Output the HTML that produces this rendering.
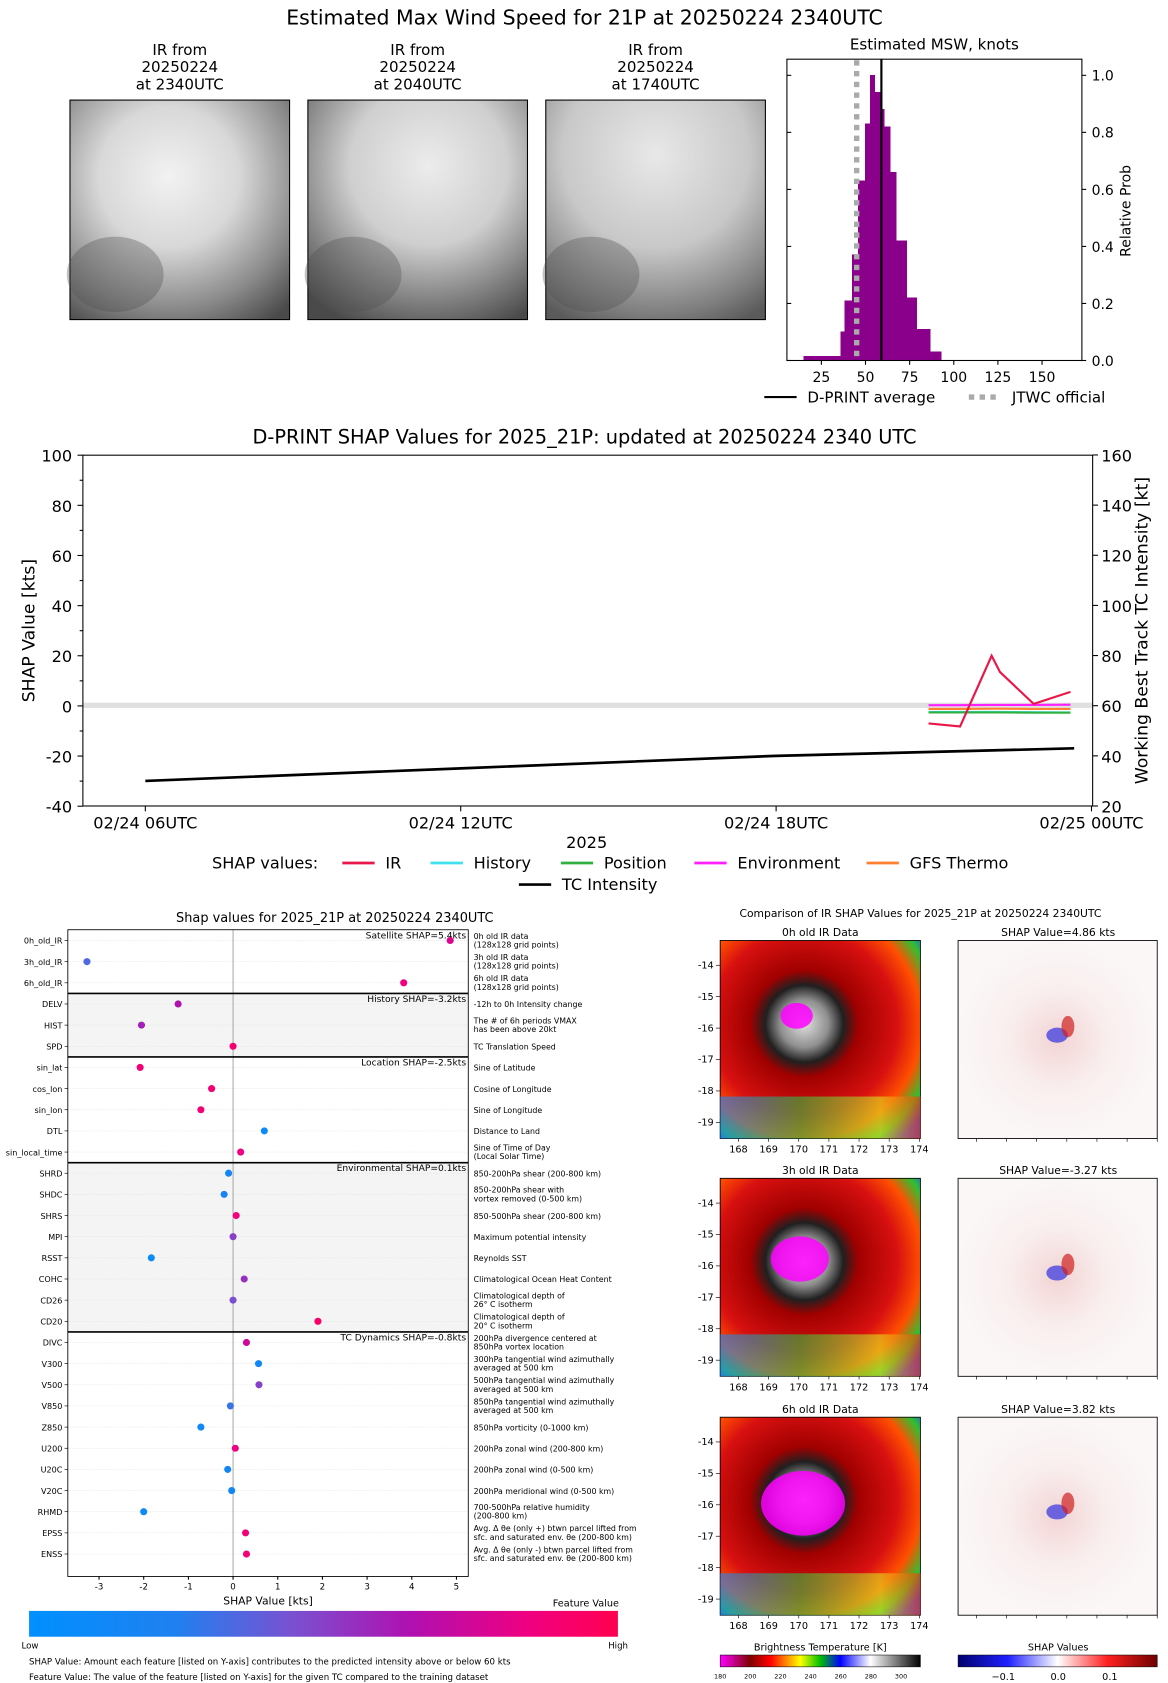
<!DOCTYPE html>
<html><head><meta charset="utf-8"><style>
html,body{margin:0;padding:0;background:#fff;}
svg{display:block;}
text{font-family:"DejaVu Sans","Liberation Sans",sans-serif;fill:#000;}
</style></head><body>
<svg id="root" width="1168" height="1683" viewBox="0 0 1085 1564" preserveAspectRatio="none" xmlns="http://www.w3.org/2000/svg">
<defs>
<radialGradient id="g1" cx="0.45" cy="0.35" r="0.8"><stop offset="0" stop-color="#f2f2f2"/><stop offset="0.4" stop-color="#d8d8d8"/><stop offset="0.75" stop-color="#8a8a8a"/><stop offset="1" stop-color="#4a4a4a"/></radialGradient>
<radialGradient id="g2" cx="0.55" cy="0.3" r="0.8"><stop offset="0" stop-color="#ececec"/><stop offset="0.45" stop-color="#cfcfcf"/><stop offset="0.8" stop-color="#7a7a7a"/><stop offset="1" stop-color="#4a4a4a"/></radialGradient>
<radialGradient id="g3" cx="0.5" cy="0.25" r="0.85"><stop offset="0" stop-color="#e8e8e8"/><stop offset="0.5" stop-color="#c8c8c8"/><stop offset="0.85" stop-color="#7e7e7e"/><stop offset="1" stop-color="#5a5a5a"/></radialGradient>
<radialGradient id="irc" cx="0.42" cy="0.42" r="0.75"><stop offset="0" stop-color="#e0e0e0"/><stop offset="0.16" stop-color="#909090"/><stop offset="0.26" stop-color="#202020"/><stop offset="0.36" stop-color="#a00000"/><stop offset="0.62" stop-color="#d81010"/><stop offset="0.78" stop-color="#ff5000"/><stop offset="0.9" stop-color="#30c030"/><stop offset="1" stop-color="#2050ff"/></radialGradient>
<linearGradient id="bandg" x1="0" x2="1"><stop offset="0" stop-color="#2080ff"/><stop offset="0.4" stop-color="#30c040"/><stop offset="0.8" stop-color="#e0e020"/><stop offset="1" stop-color="#ff3000"/></linearGradient>
<radialGradient id="shp" cx="0.5" cy="0.5" r="0.5"><stop offset="0" stop-color="#f3d4d4"/><stop offset="0.5" stop-color="#f9eeee"/><stop offset="1" stop-color="#fbf7f7"/></radialGradient>
<linearGradient id="fcb" x1="0" x2="1"><stop offset="0" stop-color="#0090ff"/><stop offset="0.25" stop-color="#2080f0"/><stop offset="0.45" stop-color="#7a50d0"/><stop offset="0.65" stop-color="#b010b0"/><stop offset="0.85" stop-color="#f00080"/><stop offset="1" stop-color="#ff0050"/></linearGradient>
<linearGradient id="btcb" x1="0" x2="1"><stop offset="0" stop-color="#ff00ff"/><stop offset="0.15" stop-color="#800000"/><stop offset="0.25" stop-color="#ff0000"/><stop offset="0.4" stop-color="#ffff00"/><stop offset="0.5" stop-color="#00c000"/><stop offset="0.6" stop-color="#0000ff"/><stop offset="0.75" stop-color="#ffffff"/><stop offset="1" stop-color="#000000"/></linearGradient>
<linearGradient id="scb" x1="0" x2="1"><stop offset="0" stop-color="#00006e"/><stop offset="0.25" stop-color="#2020ff"/><stop offset="0.5" stop-color="#ffffff"/><stop offset="0.75" stop-color="#ff2020"/><stop offset="1" stop-color="#6e0000"/></linearGradient>
</defs>
<text x="543" y="23" font-size="19" text-anchor="middle">Estimated Max Wind Speed for 21P at 20250224 2340UTC</text>
<g id="irtop"></g>
<g id="hist"></g>
<g id="mid"></g>
<g id="bl"></g>
<g id="br"></g>
</svg>
<script>
const NS='http://www.w3.org/2000/svg';
function mk(p,tag,at,txt){const e=document.createElementNS(NS,tag);for(const k in at)e.setAttribute(k,at[k]);if(txt!==undefined)e.textContent=txt;p.appendChild(e);return e;}
// ---------- DATA ----------
const histEdges=[15,36,38.4,42.4,45.8,49.8,52.6,55.2,58.6,60.5,63.9,67.3,73.4,79,86.6,93];
const histVals=[0.015,0.10,0.21,0.37,0.63,0.83,1.0,0.94,0.88,0.82,0.66,0.42,0.22,0.11,0.03];
const dprintAvg=59;
const jtwc=45;
const histTicksX=[25,50,75,100,125,150];
const histTicksY=[0,0.2,0.4,0.6,0.8,1.0];
const tcTimes=[6,12,18,23.67];
const tcVals=[30,35,40,43];
const shapTimes=[20.9,21.5,22.1,22.26,22.9,23.6];
const shapIR=[-7,-8.2,20,13.5,0.8,5.6];
const shapHistory=[-2.4,-2.4,-2.4,-2.4,-2.5,-2.6];
const shapPosition=[-2.6,-2.6,-2.6,-2.6,-2.7,-2.7];
const shapEnv=[0.3,0.3,0.4,0.4,0.4,0.5];
const shapGFS=[-1.2,-1.2,-1.1,-1.1,-1.2,-1.2];
const midTimeTicks=[6,12,18,24];
const midTimeLabels=['02/24 06UTC','02/24 12UTC','02/24 18UTC','02/25 00UTC'];
const featNames=['0h_old_IR','3h_old_IR','6h_old_IR','DELV','HIST','SPD','sin_lat','cos_lon','sin_lon','DTL','sin_local_time','SHRD','SHDC','SHRS','MPI','RSST','COHC','CD26','CD20','DIVC','V300','V500','V850','Z850','U200','U20C','V20C','RHMD','EPSS','ENSS'];
const featShap=[4.86,-3.27,3.82,-1.23,-2.05,0,-2.08,-0.48,-0.72,0.7,0.17,-0.1,-0.2,0.07,0,-1.83,0.25,0,1.9,0.3,0.57,0.58,-0.06,-0.72,0.05,-0.12,-0.03,-2.0,0.28,0.3];
const featVal=[0.8,0.35,0.85,0.65,0.6,0.9,0.88,0.88,0.88,0.1,0.85,0.15,0.2,0.85,0.5,0.1,0.55,0.45,0.92,0.75,0.15,0.5,0.3,0.12,0.85,0.15,0.15,0.1,0.88,0.88];
const featDesc=[['0h old IR data','(128x128 grid points)'],['3h old IR data','(128x128 grid points)'],['6h old IR data','(128x128 grid points)'],['-12h to 0h Intensity change'],['The # of 6h periods VMAX','has been above 20kt'],['TC Translation Speed'],['Sine of Latitude'],['Cosine of Longitude'],['Sine of Longitude'],['Distance to Land'],['Sine of Time of Day','(Local Solar Time)'],['850-200hPa shear (200-800 km)'],['850-200hPa shear with','vortex removed (0-500 km)'],['850-500hPa shear (200-800 km)'],['Maximum potential intensity'],['Reynolds SST'],['Climatological Ocean Heat Content'],['Climatological depth of','26° C isotherm'],['Climatological depth of','20° C isotherm'],['200hPa divergence centered at','850hPa vortex location'],['300hPa tangential wind azimuthally','averaged at 500 km'],['500hPa tangential wind azimuthally','averaged at 500 km'],['850hPa tangential wind azimuthally','averaged at 500 km'],['850hPa vorticity (0-1000 km)'],['200hPa zonal wind (200-800 km)'],['200hPa zonal wind (0-500 km)'],['200hPa meridional wind (0-500 km)'],['700-500hPa relative humidity','(200-800 km)'],['Avg. Δ θe (only +) btwn parcel lifted from','sfc. and saturated env. θe (200-800 km)'],['Avg. Δ θe (only -) btwn parcel lifted from','sfc. and saturated env. θe (200-800 km)']];
const groupStarts=[0,3,6,11,19];
const groupTitles=['Satellite SHAP=5.4kts','History SHAP=-3.2kts','Location SHAP=-2.5kts','Environmental SHAP=0.1kts','TC Dynamics SHAP=-0.8kts'];
const blTicks=[-3,-2,-1,0,1,2,3,4,5];
const irPanelTitles=['0h old IR Data','3h old IR Data','6h old IR Data'];
const shapPanelTitles=['SHAP Value=4.86 kts','SHAP Value=-3.27 kts','SHAP Value=3.82 kts'];

// ---------- TOP IR ----------
const irtop=document.getElementById('irtop');
[[167,'2340UTC','g1'],[388,'2040UTC','g2'],[609,'1740UTC','g3']].forEach((d,i)=>{
  let t=mk(irtop,'text',{x:d[0],y:51,'font-size':14,'text-anchor':'middle'},'IR from');
  
  t=mk(irtop,'text',{x:d[0],y:67,'font-size':14,'text-anchor':'middle'},'20250224');
  
  t=mk(irtop,'text',{x:d[0],y:83,'font-size':14,'text-anchor':'middle'},'at '+d[1]);
  
  const r=mk(irtop,'rect',{x:d[0]-102,y:93,width:204,height:204,fill:'url(#'+d[2]+')',stroke:'#000','stroke-width':1});
  
  mk(irtop,'ellipse',{cx:d[0]-60,cy:255,rx:45,ry:35,fill:'#505050',opacity:0.35});
});

// ---------- HISTOGRAM ----------
const H=document.getElementById('hist');
const hx=v=>722+v*1.64, hy=v=>335-v*265;
histVals.forEach((v,i)=>{
  const b=mk(H,'rect',{x:hx(histEdges[i]),y:hy(v),width:hx(histEdges[i+1])-hx(histEdges[i]),height:335-hy(v),fill:'#8b008b',stroke:'#8b008b','stroke-width':0.6,'shape-rendering':'crispEdges'});
  
});
let e=mk(H,'line',{x1:hx(jtwc),x2:hx(jtwc),y1:56,y2:335,stroke:'#aaa','stroke-width':5,'stroke-dasharray':'5,5'});

e=mk(H,'line',{x1:hx(dprintAvg),x2:hx(dprintAvg),y1:55,y2:335,stroke:'#000','stroke-width':2});

e=mk(H,'rect',{x:731,y:55,width:274,height:280,fill:'none',stroke:'#000','stroke-width':1});

histTicksX.forEach(v=>{mk(H,'line',{x1:hx(v),x2:hx(v),y1:335,y2:339,stroke:'#000'});
  const t=mk(H,'text',{x:hx(v),y:355,'font-size':13,'text-anchor':'middle'},v);});
histTicksY.forEach(v=>{mk(H,'line',{x1:1005,x2:1009,y1:hy(v),y2:hy(v),stroke:'#000'});mk(H,'line',{x1:731,x2:735,y1:hy(v),y2:hy(v),stroke:'#000'});
  const t=mk(H,'text',{x:1014,y:hy(v)+5,'font-size':13},v.toFixed(1));});
e=mk(H,'text',{x:868,y:46,'font-size':14,'text-anchor':'middle'},'Estimated MSW, knots');
e=mk(H,'text',{x:0,y:0,'font-size':13,'text-anchor':'middle',transform:'translate(1050,196) rotate(-90)'},'Relative Prob');
mk(H,'line',{x1:710,x2:740,y1:369,y2:369,stroke:'#000','stroke-width':2});
e=mk(H,'text',{x:750,y:374,'font-size':14},'D-PRINT average');
mk(H,'line',{x1:900,x2:930,y1:369,y2:369,stroke:'#aaa','stroke-width':5,'stroke-dasharray':'5,5'});
e=mk(H,'text',{x:940,y:374,'font-size':14},'JTWC official');

// ---------- MIDDLE ----------
const M=document.getElementById('mid');
const mx=h=>135+(h-6)*48.83, myL=v=>656-v*2.33, myR=v=>749-(v-20)*2.33;
e=mk(M,'text',{x:543,y:412,'font-size':18,'text-anchor':'middle'},'D-PRINT SHAP Values for 2025_21P: updated at 20250224 2340 UTC');
mk(M,'rect',{x:77,y:653,width:938,height:5,fill:'#e0e0e0'});
function poly(ts,vs,fy,col,w,name){const pts=ts.map((t,i)=>mx(t)+','+fy(vs[i])).join(' ');const p=mk(M,'polyline',{points:pts,fill:'none',stroke:col,'stroke-width':w});}
poly(tcTimes,tcVals,myR,'#000',2.5,'tc-intensity-line');
poly(shapTimes,shapHistory,myL,'#40e0f0',2,'history-line');
poly(shapTimes,shapPosition,myL,'#30b040',2,'position-line');
poly(shapTimes,shapGFS,myL,'#ff8030',2,'gfs-thermo-line');
poly(shapTimes,shapEnv,myL,'#ff20ff',2,'environment-line');
poly(shapTimes,shapIR,myL,'#e8184a',2,'ir-line');
e=mk(M,'rect',{x:77,y:423,width:938,height:326,fill:'none',stroke:'#000'});
for(let v=-40;v<=100;v+=20){mk(M,'line',{x1:72,x2:77,y1:myL(v),y2:myL(v),stroke:'#000'});const t=mk(M,'text',{x:67,y:myL(v)+6,'font-size':15,'text-anchor':'end'},v);}
for(let v=-30;v<=90;v+=20){mk(M,'line',{x1:74,x2:77,y1:myL(v),y2:myL(v),stroke:'#000'});}
for(let v=20;v<=160;v+=20){mk(M,'line',{x1:1015,x2:1020,y1:myR(v),y2:myR(v),stroke:'#000'});const t=mk(M,'text',{x:1023,y:myR(v)+6,'font-size':15},v);}
midTimeTicks.forEach((h,i)=>{mk(M,'line',{x1:mx(h),x2:mx(h),y1:749,y2:754,stroke:'#000'});const t=mk(M,'text',{x:mx(h),y:770,'font-size':15,'text-anchor':'middle'},midTimeLabels[i]);});
e=mk(M,'text',{x:545,y:788,'font-size':15,'text-anchor':'middle'},'2025');
e=mk(M,'text',{x:0,y:0,'font-size':16,'text-anchor':'middle',transform:'translate(32,586) rotate(-90)'},'SHAP Value [kts]');
e=mk(M,'text',{x:0,y:0,'font-size':16,'text-anchor':'middle',transform:'translate(1066,586) rotate(-90)'},'Working Best Track TC Intensity [kt]');
e=mk(M,'text',{x:197,y:807,'font-size':15},'SHAP values:');
[[318,'#e8184a','IR'],[400,'#40e0f0','History'],[521,'#30b040','Position'],[645,'#ff20ff','Environment'],[805,'#ff8030','GFS Thermo'],[482,'#000','TC Intensity',1]].forEach(d=>{
  const y=d[3]?822:802;mk(M,'line',{x1:d[0],x2:d[0]+30,y1:y,y2:y,stroke:d[1],'stroke-width':2.5});
  const t=mk(M,'text',{x:d[0]+40,y:y+5,'font-size':15},d[2]);});

// ---------- BOTTOM LEFT ----------
const B=document.getElementById('bl');
const bx=v=>216.5+v*41.5, by=i=>874+i*19.66;
e=mk(B,'text',{x:311,y:857,'font-size':12,'text-anchor':'middle'},'Shap values for 2025_21P at 20250224 2340UTC');
[[3,6],[11,19]].forEach(g=>mk(B,'rect',{x:63,y:by(g[0])-9.8,width:372,height:(g[1]-g[0])*19.66,fill:'#f4f4f4'}));
featNames.forEach((n,i)=>{mk(B,'line',{x1:63,x2:435,y1:by(i),y2:by(i),stroke:'#e4e4e4','stroke-width':0.6,'stroke-dasharray':'1,1'});});
mk(B,'line',{x1:bx(0),x2:bx(0),y1:864,y2:1465,stroke:'#999','stroke-width':0.8});
groupStarts.forEach((s,k)=>{if(k>0)mk(B,'line',{x1:63,x2:435,y1:by(s)-9.8,y2:by(s)-9.8,stroke:'#000','stroke-width':1.5});
  const t=mk(B,'text',{x:433,y:by(s)-2,'font-size':8.5,'text-anchor':'end'},groupTitles[k]);});
function fcol(v){const st=[[0,[0,144,255]],[0.25,[32,128,240]],[0.45,[122,80,208]],[0.65,[176,16,176]],[0.85,[240,0,128]],[1,[255,0,80]]];for(let i=1;i<st.length;i++){if(v<=st[i][0]){const a=st[i-1],b=st[i],f=(v-a[0])/(b[0]-a[0]);return 'rgb('+a[1].map((c,j)=>Math.round(c+(b[1][j]-c)*f)).join(',')+')';}}return 'rgb(255,0,80)';}
featNames.forEach((n,i)=>{
  let t=mk(B,'text',{x:58,y:by(i)+3,'font-size':7.5,'text-anchor':'end'},n);
  mk(B,'line',{x1:60,x2:63,y1:by(i),y2:by(i),stroke:'#000','stroke-width':0.6});
  const c=mk(B,'circle',{cx:bx(featShap[i]),cy:by(i),r:3.3,fill:fcol(featVal[i])});
  const d=featDesc[i];d.forEach((s,k)=>{const tt=mk(B,'text',{x:440,y:by(i)+(d.length==1?3:k*8-1.5),'font-size':7.3},s);});
});
e=mk(B,'rect',{x:63,y:864,width:372,height:601,fill:'none',stroke:'#000','stroke-width':0.8});
blTicks.forEach(v=>{mk(B,'line',{x1:bx(v),x2:bx(v),y1:1465,y2:1468,stroke:'#000'});const t=mk(B,'text',{x:bx(v),y:1477,'font-size':8,'text-anchor':'middle'},v);});
e=mk(B,'text',{x:249,y:1491,'font-size':10,'text-anchor':'middle'},'SHAP Value [kts]');
e=mk(B,'rect',{x:27,y:1497,width:547,height:24,fill:'url(#fcb)'});
e=mk(B,'text',{x:575,y:1493,'font-size':9,'text-anchor':'end'},'Feature Value');
e=mk(B,'text',{x:20,y:1532,'font-size':8},'Low');
e=mk(B,'text',{x:565,y:1532,'font-size':8},'High');
e=mk(B,'text',{x:27,y:1547,'font-size':8},'SHAP Value: Amount each feature [listed on Y-axis] contributes to the predicted intensity above or below 60 kts');
e=mk(B,'text',{x:27,y:1561,'font-size':8},'Feature Value: The value of the feature [listed on Y-axis] for the given TC compared to the training dataset');

// ---------- BOTTOM RIGHT ----------
const R=document.getElementById('br');
e=mk(R,'text',{x:855,y:852,'font-size':10,'text-anchor':'middle'},'Comparison of IR SHAP Values for 2025_21P at 20250224 2340UTC');
[0,221,443].forEach((o,k)=>{
  const y0=874+o;
  let t=mk(R,'text',{x:762,y:y0-4,'font-size':10,'text-anchor':'middle'},irPanelTitles[k]);
  t=mk(R,'text',{x:983,y:y0-4,'font-size':10,'text-anchor':'middle'},shapPanelTitles[k]);
  const r=mk(R,'rect',{x:669,y:y0,width:186,height:184,fill:'url(#irc)',stroke:'#000','stroke-width':0.8});
  mk(R,'rect',{x:669,y:y0+145,width:186,height:39,fill:'url(#bandg)',opacity:0.6});
  mk(R,'ellipse',{cx:740+k*3,cy:y0+70+k*5,rx:15+k*12,ry:12+k*9,fill:'#ff00ff',opacity:0.85});
  const s=mk(R,'rect',{x:890,y:y0,width:185,height:184,fill:'url(#shp)',stroke:'#000','stroke-width':0.8});
  mk(R,'ellipse',{cx:982,cy:y0+88,rx:10,ry:7,fill:'#3030e0',opacity:0.7});
  mk(R,'ellipse',{cx:992,cy:y0+80,rx:6,ry:10,fill:'#d02020',opacity:0.7});
  for(let j=0;j<6;j++){mk(R,'line',{x1:665,x2:669,y1:y0+23+j*29.2,y2:y0+23+j*29.2,stroke:'#000','stroke-width':0.6});const tt=mk(R,'text',{x:663,y:y0+26+j*29.2,'font-size':9,'text-anchor':'end'},-(14+j));}
  for(let j=0;j<7;j++){const xx=686+j*28;mk(R,'line',{x1:xx,x2:xx,y1:y0+184,y2:y0+187,stroke:'#000','stroke-width':0.6});const tt=mk(R,'text',{x:xx,y:y0+197,'font-size':9,'text-anchor':'middle'},168+j);
    mk(R,'line',{x1:907+j*28,x2:907+j*28,y1:y0+184,y2:y0+187,stroke:'#000','stroke-width':0.6});}
});
e=mk(R,'text',{x:762,y:1534,'font-size':9,'text-anchor':'middle'},'Brightness Temperature [K]');
e=mk(R,'rect',{x:669,y:1538,width:186,height:11,fill:'url(#btcb)',stroke:'#000','stroke-width':0.5});
[180,200,220,240,260,280,300].forEach((v,j)=>{const t=mk(R,'text',{x:669+j*28,y:1560,'font-size':6,'text-anchor':'middle'},v);});
e=mk(R,'text',{x:983,y:1534,'font-size':9,'text-anchor':'middle'},'SHAP Values');
e=mk(R,'rect',{x:890,y:1538,width:185,height:11,fill:'url(#scb)',stroke:'#000','stroke-width':0.5});
[['−0.1',932],['0.0',983],['0.1',1031]].forEach(d=>{const t=mk(R,'text',{x:d[1],y:1561,'font-size':9,'text-anchor':'middle'},d[0]);});
</script>
</body></html>
